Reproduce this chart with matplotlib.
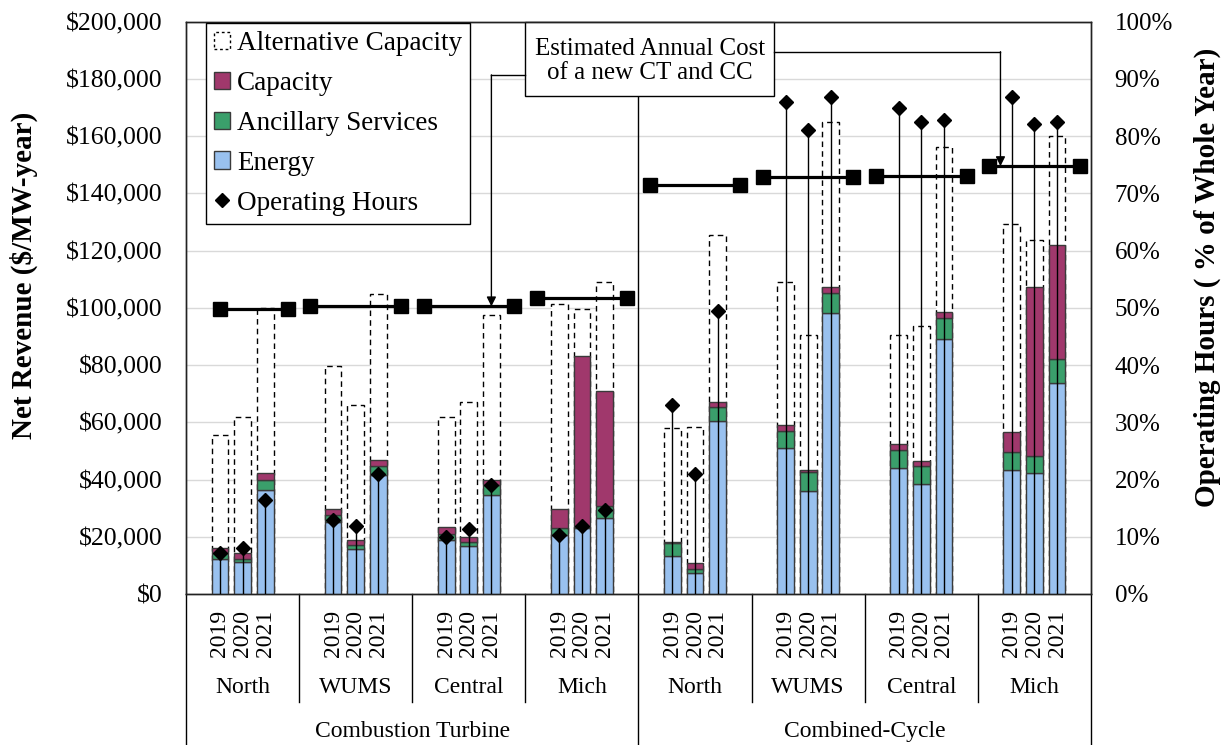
import matplotlib
matplotlib.use("Agg")
import matplotlib.pyplot as plt
from matplotlib.patches import Patch, Rectangle
from matplotlib.lines import Line2D
from matplotlib.ticker import FuncFormatter
import numpy as np

plt.rcParams["font.family"] = ["Liberation Serif", "DejaVu Serif"]

groups = ["Combustion Turbine", "Combined-Cycle"]
regions = ["North", "WUMS", "Central", "Mich", "North", "WUMS", "Central", "Mich"]
years = ["2019", "2020", "2021"]

# $k per MW-year, one row per region (CT first, then CC), columns 2019-2021
energy = [
    [12.4, 11.3, 36.5], [25.2, 15.6, 41.7], [18.8, 16.7, 34.5], [20.6, 22.9, 26.7],
    [13.2, 7.2, 60.4], [51.0, 35.9, 98.1], [44.0, 38.6, 89.1], [43.4, 42.3, 73.6],
]
ancillary = [
    [2.0, 1.1, 3.5], [2.3, 1.5, 3.2], [2.1, 1.5, 3.5], [2.3, 0.6, 4.0],
    [4.5, 1.7, 5.1], [5.9, 6.7, 7.2], [6.4, 6.0, 7.5], [6.2, 5.8, 8.5],
]
capacity = [
    [1.5, 1.8, 2.3], [2.3, 1.7, 2.0], [2.6, 1.8, 2.0], [6.9, 59.8, 40.4],
    [0.3, 2.1, 1.5], [2.3, 0.8, 2.0], [1.9, 1.8, 2.1], [7.0, 59.2, 39.7],
]
alt_capacity_total = [
    [55.4, 61.8, 100.0], [79.8, 65.9, 105.0], [61.8, 67.0, 97.6], [101.5, 99.5, 108.9],
    [57.9, 58.3, 125.4], [109.2, 90.6, 164.8], [90.6, 93.7, 156.2], [129.4, 123.6, 160.2],
]
# % of whole year
operating_hours = [
    [7.1, 8.0, 16.4], [12.9, 11.8, 21.0], [10.0, 11.4, 19.0], [10.3, 11.8, 14.6],
    [33.1, 21.0, 49.4], [85.9, 81.1, 86.8], [84.9, 82.5, 82.8], [86.8, 82.1, 82.5],
]
annual_cost = [99.5, 100.7, 100.5, 103.4, 143.1, 145.8, 146.0, 149.5]

c_energy = "#99C1EF"
c_anc = "#3A9F6B"
c_cap = "#A0386C"
edge = "#3A3A3A"

fig = plt.figure(figsize=(12.21, 7.45), dpi=100)
ax = fig.add_axes([0.1523, 0.2027, 0.7412, 0.7682])
ax2 = ax.twinx()

slots = 5  # empty slot, 3 years, empty slot per region
bw = 0.74
en = np.array(energy) * 1000
an = np.array(ancillary) * 1000
ca = np.array(capacity) * 1000
alt = np.array(alt_capacity_total) * 1000
oh = np.array(operating_hours) / 100

for r in range(len(regions)):
    x = r * slots + np.arange(1, 4) + 0.5
    ax.bar(x, alt[r], bw, facecolor="white", edgecolor="black", linestyle=(0, (4, 3)), lw=1, zorder=2)
    ax.bar(x, en[r], bw, color=c_energy, edgecolor=edge, lw=1, zorder=3)
    ax.bar(x, an[r], bw, bottom=en[r], color=c_anc, edgecolor=edge, lw=1, zorder=3)
    ax.bar(x, ca[r], bw, bottom=en[r] + an[r], color=c_cap, edgecolor=edge, lw=1, zorder=3)
    ax2.vlines(x, 0, oh[r], color="black", lw=1.0, zorder=4)
    ax2.plot(x, oh[r], "D", color="black", ms=7.5, zorder=5)
    # estimated annual cost line across the region
    x0 = r * slots + (1.5 if r == 0 else 0.5)
    x1 = r * slots + 4.5
    ax.plot([x0, x1], [annual_cost[r] * 1000] * 2, color="black", lw=2.3,
            marker="s", ms=10, zorder=6)

ax.set_xlim(0, len(regions) * slots)
ax.set_ylim(0, 200000)
ax2.set_ylim(0, 1)
ax.set_yticks(np.arange(0, 200001, 20000))
ax2.set_yticks(np.arange(0, 1.01, 0.1))
ax.yaxis.set_major_formatter(FuncFormatter(lambda v, p: f"${v:,.0f}"))
ax2.yaxis.set_major_formatter(FuncFormatter(lambda v, p: f"{v * 100:.0f}%"))
ax.set_xticks([])
ax.tick_params(axis="y", length=0, labelsize=18.5, pad=17)
ax2.tick_params(axis="y", length=0, labelsize=18, pad=17)
ax.grid(axis="y", color="#D9D9D9", lw=1)
ax.set_axisbelow(True)
for a in (ax, ax2):
    for s in a.spines.values():
        s.set_color("#222222")
        s.set_linewidth(1)

# divider between CT and CC
ax.axvline(20, color="black", lw=1, zorder=4)

# multi-level category axis
tr = ax.get_xaxis_transform()
for r in range(len(regions)):
    for k, yr in enumerate(years):
        ax.text(r * slots + k + 1.5, -0.069, yr, transform=tr, rotation=90,
                ha="center", va="center", fontsize=17)
    ax.text(r * slots + 2.5, -0.164, regions[r], transform=tr, ha="center",
            va="center", fontsize=17)
for xs in [5, 10, 15, 25, 30, 35]:
    ax.plot([xs, xs], [0, -0.1887], transform=tr, color="black", lw=1, clip_on=False)
for xs in [0, 20, 40]:
    ax.plot([xs, xs], [0, -0.27], transform=tr, color="black", lw=1, clip_on=False)
for g, name in enumerate(groups):
    ax.text(g * 20 + 10, -0.241, name, transform=tr, ha="center", va="center", fontsize=17)

fig.text(0.0197, 0.631, "Net Revenue ($/MW-year)", rotation=90, ha="center",
         va="center", fontsize=21, fontweight="bold")
fig.text(0.9885, 0.628, "Operating Hours ( % of Whole Year)", rotation=90,
         ha="center", va="center", fontsize=21, fontweight="bold")

# callout box for the annual cost lines
ax.add_patch(Rectangle((15.0, 174000), 11.0, 26000, facecolor="white",
                       edgecolor="black", lw=1, zorder=7, clip_on=False))
ax.text(20.5, 186200, "Estimated Annual Cost\nof a new CT and CC", ha="center",
        va="center", fontsize=18, zorder=8, linespacing=1.15)
ax.plot([15.0, 13.5], [181400, 181400], color="black", lw=1, zorder=7)
ax.annotate("", xy=(13.5, annual_cost[2] * 1000), xytext=(13.5, 181400),
            arrowprops=dict(arrowstyle="-|>", color="black", lw=1, mutation_scale=14,
                            shrinkA=0, shrinkB=0), zorder=7)
ax.plot([26.0, 36.0], [189500, 189500], color="black", lw=1, zorder=7)
ax.annotate("", xy=(36.0, annual_cost[7] * 1000), xytext=(36.0, 189500),
            arrowprops=dict(arrowstyle="-|>", color="black", lw=1, mutation_scale=14,
                            shrinkA=0, shrinkB=0), zorder=7)

handles = [
    Patch(facecolor="white", edgecolor="black", linestyle=(0, (2, 2)), lw=1),
    Patch(facecolor=c_cap, edgecolor=edge),
    Patch(facecolor=c_anc, edgecolor=edge),
    Patch(facecolor=c_energy, edgecolor=edge),
    Line2D([], [], marker="D", color="black", ls="none", ms=7),
]
labels = ["Alternative Capacity", "Capacity", "Ancillary Services", "Energy", "Operating Hours"]
leg = ax2.legend(handles, labels, loc="upper left", bbox_to_anchor=(0.022, 0.998),
                 borderaxespad=0, fontsize=19.5, frameon=True, fancybox=False,
                 handlelength=0.6, handleheight=0.6, handletextpad=0.25,
                 labelspacing=0.55, borderpad=0.3)
leg.get_frame().set_edgecolor("black")
leg.get_frame().set_linewidth(1)
leg.get_frame().set_alpha(1)

fig.savefig("out.png", dpi=100)
